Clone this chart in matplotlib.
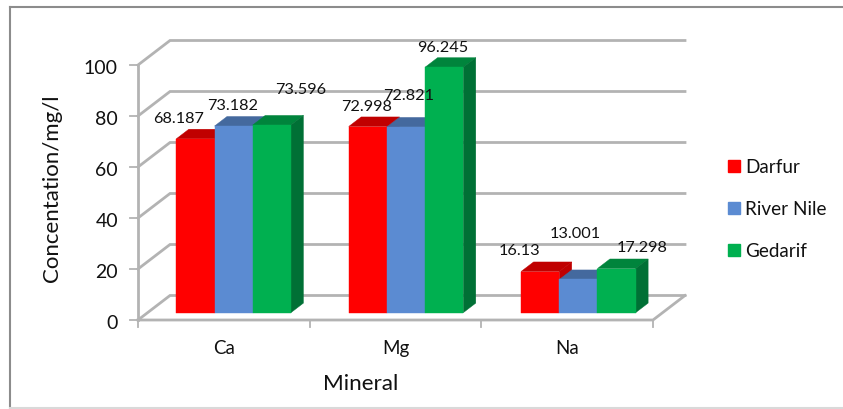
import matplotlib
matplotlib.use("Agg")
import matplotlib.pyplot as plt
from matplotlib.lines import Line2D
from matplotlib.patches import Polygon, Rectangle

minerals = ["Ca", "Mg", "Na"]
series = ["Darfur", "River Nile", "Gedarif"]
darfur = [68.187, 72.998, 16.13]
river_nile = [73.182, 72.821, 13.001]
gedarif = [73.596, 96.245, 17.298]
value_labels = [["68.187", "72.998", "16.13"],
                ["73.182", "72.821", "13.001"],
                ["73.596", "96.245", "17.298"]]
yticks = [0, 20, 40, 60, 80, 100]

front = ["#ff0000", "#5b8bd2", "#00b050"]
top = ["#c00000", "#44699e", "#00843c"]
side = ["#bf0000", "#44699e", "#007035"]

W, H = 843, 410
plt.rcParams["font.family"] = ["Lato", "DejaVu Sans"]
fig = plt.figure(figsize=(W / 100, H / 100), dpi=100)

# front plane of the floor runs 138-653 px across and 321-66 px down
ax = fig.add_axes([138 / W, 1 - 321 / H, 515 / W, 255 / H])
ax.set_xlim(0, 3)
ax.set_ylim(0, 100)
ax.axis("off")

# oblique depth of the whole chart, in data units
DX = 32 / 515 * 3
DY = 24.5 / 255 * 100
GREY = "#b3b3b3"
INK = "#111111"


def depth(x, y, d):
    return (x + DX * d, y + DY * d)


def poly(points, color, z):
    ax.add_patch(Polygon(points, closed=True, facecolor=color, edgecolor=color,
                         linewidth=0.3, zorder=z, clip_on=False))


for v in yticks:
    # wall gridline plus the slanted part on the left wall
    ax.plot(*zip(depth(0, v, 0), depth(0, v, 1), depth(3, v, 1)),
            color=GREY, lw=2, zorder=1, clip_on=False, solid_joinstyle="miter")
    ax.plot([-0.047, 0], [v, v], color=GREY, lw=1.3, zorder=1, clip_on=False)
    ax.text(-0.117, v - 0.9, str(v), ha="right", va="center", fontsize=14, color=INK)

ax.plot([0, 0], [0, 100], color=GREY, lw=2, zorder=1, clip_on=False)
ax.plot(*zip(depth(0, 0, 0), depth(3, 0, 0), depth(3, 0, 1)),
        color=GREY, lw=2, zorder=1, clip_on=False)
for i in range(4):
    ax.plot([i, i], [0, -2.7], color=GREY, lw=1.3, zorder=1, clip_on=False)

# bars sit between 30% and 69% of the floor depth
BW = 0.2225
D0, D1 = 0.30, 0.69
values = [darfur, river_nile, gedarif]
for c in range(len(minerals)):
    start = 0.1675 + c * 1.004
    for s in range(len(series)):
        v = values[s][c]
        x0 = start + s * BW
        x1 = x0 + BW
        z = 3 + s + c * 10
        a = depth(x0, v, D0)
        b = depth(x1, v, D0)
        e = depth(x1, 0, D0)
        f = depth(x0, 0, D0)
        poly([a, b, depth(x1, v, D1), depth(x0, v, D1)], top[s], z)
        poly([b, depth(x1, v, D1), depth(x1, 0, D1), e], side[s], z)
        poly([a, b, e, f], front[s], z + 0.5)

label_pos = [[(179, 119), (367, 107), (520, 251)],
             [(233, 106), (409, 96), (575, 234)],
             [(301, 90), (443, 48), (642, 248)]]
for s in range(3):
    for c in range(3):
        px, py = label_pos[s][c]
        fig.text(px / W, 1 - py / H, value_labels[s][c], ha="center", va="center",
                 fontsize=11.7, color=INK, zorder=50)

for c, name in enumerate(minerals):
    ax.text(c + 0.5, -10.8, name, ha="center", va="center", fontsize=13.5, color=INK)

fig.text(361 / W, 1 - 384 / H, "Mineral", ha="center", va="center", fontsize=16.2, color=INK)
fig.text(52 / W, 1 - 188 / H, "Concentation/mg/l", rotation=90, ha="center", va="center",
         fontsize=16, color=INK)

# legend
for s, name in enumerate(series):
    y = 167 + s * 41.8
    fig.add_artist(Rectangle((728 / W, 1 - (y + 6) / H), 12 / W, 12 / H, color=front[s],
                             transform=fig.transFigure))
    fig.text(745 / W, 1 - (y + 1) / H, name, ha="left", va="center", fontsize=13.6, color=INK)

# chart border: darker on the left and top, faint along the bottom
fig.add_artist(Line2D([10 / W, 10 / W], [1 - 409 / H, 1 - 8 / H], color="#8c8c8c", lw=1.5,
                      transform=fig.transFigure))
fig.add_artist(Line2D([10 / W, 1], [1 - 8 / H, 1 - 8 / H], color="#8c8c8c", lw=1.5,
                      transform=fig.transFigure))
fig.add_artist(Line2D([10 / W, 1], [1 - 409 / H, 1 - 409 / H], color="#d9d9d9", lw=1.5,
                      transform=fig.transFigure))

fig.savefig("out.png", dpi=100)
